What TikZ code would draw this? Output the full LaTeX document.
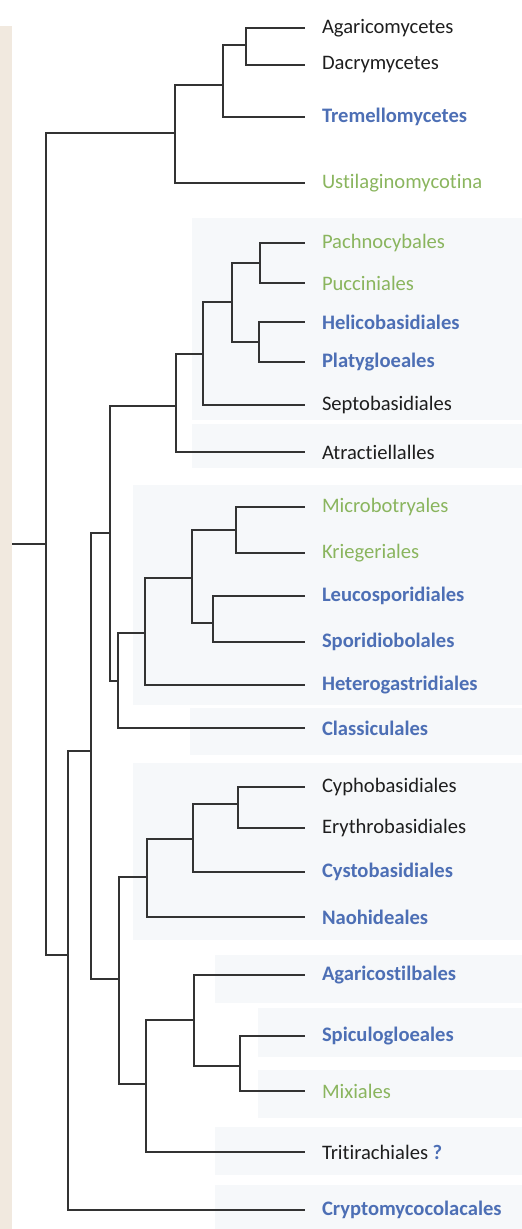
\documentclass[tikz,border=0pt]{standalone}
\usepackage{fontspec}
\setmainfont[Ligatures=NoCommon]{Carlito}
\usepackage{xcolor}
\usepackage{tikz}
\usetikzlibrary{positioning,backgrounds}
\definecolor{clblue}{HTML}{4D6FB5}
\definecolor{clgreen}{HTML}{8AB55E}
\definecolor{clblack}{HTML}{1E1E1E}
\definecolor{panel}{HTML}{F6F8FA}
\definecolor{margin}{HTML}{F1E9DF}
\newcommand{\leafsize}{\fontsize{20.6}{24}\selectfont}
\tikzset{
  % --- taxon labels ----------------------------------------------------------
  leaf/.style={anchor=west,inner xsep=0pt,inner ysep=1pt,outer xsep=17pt,
               font=\leafsize,text=clblack},
  leafblue/.style={leaf,text=clblue,font=\leafsize\bfseries},
  leafgreen/.style={leaf,text=clgreen},
  % --- tree ------------------------------------------------------------------
  branch/.style={draw=black!80,line width=1.4pt},
  % --- shaded bands behind groups of orders ---------------------------------
  band/.style={fill=panel,draw=none},
}

\begin{document}
\begin{tikzpicture}[x=1pt, y=-1pt]
  \def\tipx{305}       % where every leaf line ends
  \def\rx{522}         % right edge of the picture
  \useasboundingbox (0,0) rectangle (\rx,1229);

  % background bands
  \fill[margin] (0,26) rectangle (12,1229);
  \foreach \xa/\ya/\yb in {192/218/420, 192/424/468, 133/485/705, 190/708/755,
                           133/763/940, 215/955/1003, 258/1008/1057,
                           258/1070/1118, 215/1127/1175, 215/1185/1229}
    \fill[band] (\xa,\ya) rectangle (\rx,\yb);

  % leaves: {name}/{y}/{style}/{text}
  \foreach \nm/\yy/\sty/\txt in {%
      agar/28/leaf/Agaricomycetes,
      dacr/65/leaf/Dacrymycetes,
      trem/117/leafblue/Tremellomycetes,
      usti/183/leafgreen/Ustilaginomycotina,
      pach/243/leafgreen/Pachnocybales,
      pucc/283/leafgreen/Pucciniales,
      heli/322/leafblue/Helicobasidiales,
      plat/362/leafblue/Platygloeales,
      sept/405/leaf/Septobasidiales,
      atra/452/leaf/Atractiellalles,
      micr/507/leafgreen/Microbotryales,
      krie/553/leafgreen/Kriegeriales,
      leuc/596/leafblue/Leucosporidiales,
      spor/642/leafblue/Sporidiobolales,
      hete/685/leafblue/Heterogastridiales,
      clas/728/leafblue/Classiculales,
      cyph/787/leaf/Cyphobasidiales,
      eryt/828/leaf/Erythrobasidiales,
      cyst/872/leafblue/Cystobasidiales,
      naoh/917/leafblue/Naohideales,
      agst/975/leafblue/Agaricostilbales,
      spic/1036/leafblue/Spiculogloeales,
      mixi/1091/leafgreen/Mixiales,
      trit/1152/leaf/{Tritirachiales \textcolor{clblue}{\bfseries ?}},
      cryp/1210/leafblue/Cryptomycocolacales}
  {
    \node[\sty] (\nm) at (\tipx,\yy) {\txt};
  }

  % internal nodes of the tree
  \coordinate (root) at (12,544);
  \foreach \nm/\xx/\yy in {n0/46/544, a0/175/133, a1/223/85, a2/246/45,
      b0/68/955, b1/91/751, p0/110/533, p1/176/406, p2/203/354, p3/232/302,
      p4/260/263, p5/259/342, m0/118/681, m1/145/633, m2/192/578, m3/236/530,
      m4/213/623, c0/119/979, c1/147/877, c2/193/839, c3/238/804,
      g0/146/1084, g1/194/1020, g2/240/1066}
    \coordinate (\nm) at (\xx,\yy);

  \draw[branch] (root) -- (n0);
  \foreach \p/\c in {n0/a0, n0/b0,
      a0/a1, a0/usti, a1/a2, a1/trem, a2/agar, a2/dacr,
      b0/b1, b0/cryp, b1/p0, b1/c0,
      p0/p1, p0/m0, p1/p2, p1/atra, p2/p3, p2/sept, p3/p4, p3/p5,
      p4/pach, p4/pucc, p5/heli, p5/plat,
      m0/m1, m0/clas, m1/m2, m1/hete, m2/m3, m2/m4,
      m3/micr, m3/krie, m4/leuc, m4/spor,
      c0/c1, c0/g0, c1/c2, c1/naoh, c2/c3, c2/cyst, c3/cyph, c3/eryt,
      g0/g1, g0/trit, g1/agst, g1/g2, g2/spic, g2/mixi}
    \draw[branch] (\p) |- (\c);
\end{tikzpicture}
\end{document}
